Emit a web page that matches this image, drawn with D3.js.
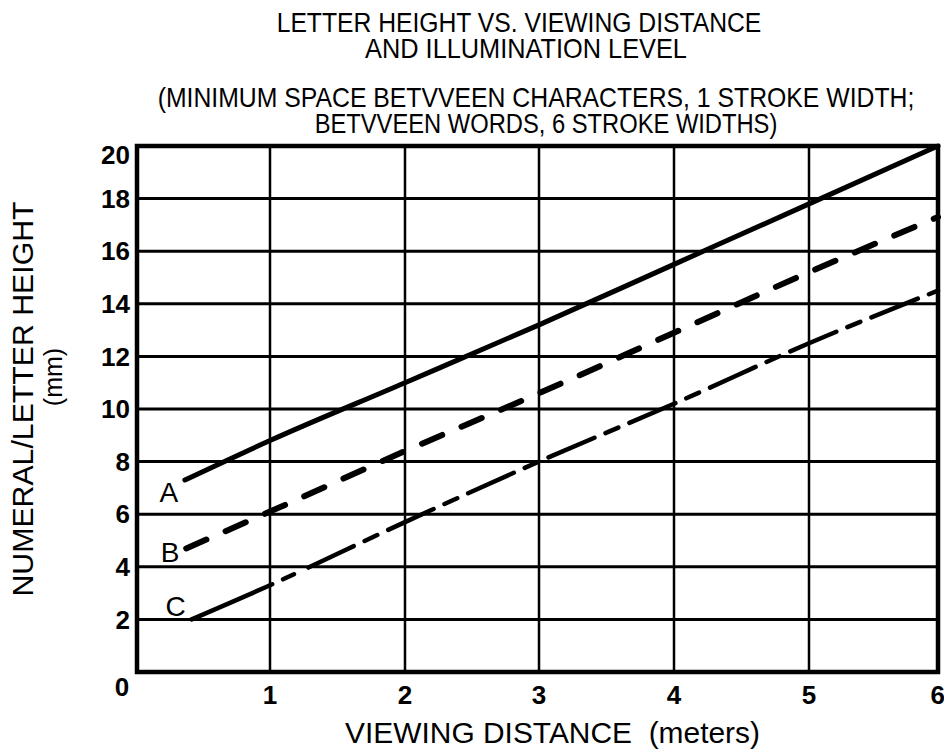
<!DOCTYPE html>
<html>
<head>
<meta charset="utf-8">
<script src="https://cdn.jsdelivr.net/npm/d3@7/dist/d3.min.js"></script>
<style>
  html, body { margin: 0; padding: 0; background: #fff; }
  svg { display: block; }
  text { font-family: "Liberation Sans", Arial, Helvetica, sans-serif; fill: #000; white-space: pre; }
</style>
</head>
<body>
<svg id="chart" width="944" height="749"></svg>
<script>
// Viewing distance grid (meters) and letter height grid (mm)
const xTicks = [1, 2, 3, 4, 5, 6];
const yTicks = [2, 4, 6, 8, 10, 12, 14, 16, 18, 20];

// Curves: letter height (mm) against viewing distance (m)
const curveA = [[0.36, 7.3], [1, 8.8], [2, 11.0], [3, 13.2], [4, 15.5], [5, 17.8], [6, 20.0]];
const curveB = [[0.37, 4.7], [1, 6.1], [2, 8.4], [3, 10.6], [4, 12.9], [5, 15.2], [6, 17.3]];
const curveC = [[0.41, 2.0], [1, 3.3], [2, 5.7], [3, 8.0], [4, 10.2], [5, 12.5], [6, 14.5]];
const curveLabels = ["A", "B", "C"];

const titleLines = [
  "LETTER HEIGHT VS. VIEWING DISTANCE",
  "AND ILLUMINATION LEVEL",
  "(MINIMUM SPACE BETVVEEN CHARACTERS, 1 STROKE WIDTH;",
  "BETVVEEN WORDS, 6 STROKE WIDTHS)"
];
const xTitle = "VIEWING DISTANCE  (meters)";
const yTitle = "NUMERAL/LETTER HEIGHT";
const yUnit = "(mm)";

const svg = d3.select("#chart");

// Hand-ruled grid: column spacing is slightly uneven
const x = d3.scaleLinear()
  .domain([0, 1, 2, 3, 4, 5, 6])
  .range([137, 270, 405, 539, 674, 809, 938]);
const y = d3.scaleLinear().domain([0, 20]).range([672, 146]);

// Title block in condensed lettering: each line is squeezed horizontally
// to its set width, keeping the full letter height
const titleLayout = [
  { cx: 519, y: 32, w: 485 },
  { cx: 526, y: 58, w: 322 },
  { cx: 536, y: 107, w: 757 },
  { cx: 546, y: 133, w: 463 }
];
svg.append("g").selectAll("text")
  .data(titleLines)
  .join("text")
  .attr("text-anchor", "middle")
  .style("font-size", "27px")
  .text(d => d)
  .each(function (d, i) {
    const L = titleLayout[i];
    const natural = this.getComputedTextLength();
    const sx = L.w / natural;
    d3.select(this).attr("transform", `translate(${L.cx},${L.y}) scale(${sx},1)`);
  });

// Grid lines
const grid = svg.append("g");
grid.selectAll("line.h")
  .data(yTicks.filter(v => v < 20))
  .join("line")
  .attr("class", "h")
  .attr("x1", x(0)).attr("x2", x(6))
  .attr("y1", d => y(d)).attr("y2", d => y(d))
  .attr("stroke", "#000").attr("stroke-width", 3);
grid.selectAll("line.v")
  .data(xTicks.filter(v => v < 6))
  .join("line")
  .attr("class", "v")
  .attr("x1", d => x(d)).attr("x2", d => x(d))
  .attr("y1", y(20)).attr("y2", y(0))
  .attr("stroke", "#000").attr("stroke-width", 2.5);

// Plot frame
svg.append("rect")
  .attr("x", x(0)).attr("y", y(20))
  .attr("width", x(6) - x(0)).attr("height", y(0) - y(20))
  .attr("fill", "none").attr("stroke", "#000").attr("stroke-width", 4.5);

// Curves
const line = d3.line()
  .x(d => x(d[0]))
  .y(d => y(d[1]))
  .curve(d3.curveMonotoneX);

// Dash pattern for C: short solid lead-in, then long/short dashes
const cDash = [88, 12, 12, 16];
for (let i = 0; i < 14; i++) cDash.push(50, 12, 14, 12);

const curves = [
  { data: curveA, width: 5, dash: null },
  { data: curveB, width: 6, dash: "22,21" },
  { data: curveC, width: 4.5, dash: cDash.join(",") }
];
svg.append("g").selectAll("path")
  .data(curves)
  .join("path")
  .attr("d", d => line(d.data))
  .attr("fill", "none")
  .attr("stroke", "#000")
  .attr("stroke-width", d => d.width)
  .attr("stroke-linecap", "round")
  .attr("stroke-linejoin", "round")
  .attr("stroke-dasharray", d => d.dash);

// Curve labels at the left end of each curve
svg.append("g").selectAll("text")
  .data(curves)
  .join("text")
  .attr("x", d => x(d.data[0][0]) - 16)
  .attr("y", (d, i) => y(d.data[0][1]) + [22, 14, -3][i])
  .attr("text-anchor", "middle")
  .style("font-size", "28px")
  .text((d, i) => curveLabels[i]);

// Y tick labels
svg.append("g").selectAll("text")
  .data(yTicks)
  .join("text")
  .attr("x", 130)
  .attr("y", d => Math.max(y(d), 155))
  .attr("dy", "0.35em")
  .attr("text-anchor", "end")
  .style("font-size", "26px")
  .style("font-weight", "bold")
  .text(d => d);

// X tick labels
svg.append("g").selectAll("text")
  .data(xTicks)
  .join("text")
  .attr("x", d => x(d))
  .attr("y", 704)
  .attr("text-anchor", d => d === 6 ? "end" : "middle")
  .attr("dx", d => d === 6 ? 7 : 0)
  .style("font-size", "26px")
  .style("font-weight", "bold")
  .text(d => d);

// Shared origin label
svg.append("text")
  .attr("x", 122).attr("y", 696)
  .attr("text-anchor", "middle")
  .style("font-size", "26px")
  .style("font-weight", "bold")
  .text(0);

// Axis titles
svg.append("text")
  .attr("x", 345).attr("y", 743)
  .attr("textLength", 415)
  .attr("lengthAdjust", "spacingAndGlyphs")
  .style("font-size", "29px")
  .text(xTitle);

svg.append("text")
  .attr("transform", "translate(33,399) rotate(-90)")
  .attr("text-anchor", "middle")
  .attr("textLength", 395)
  .attr("lengthAdjust", "spacingAndGlyphs")
  .style("font-size", "29px")
  .text(yTitle);

svg.append("text")
  .attr("transform", "translate(62,377) rotate(-90)")
  .attr("text-anchor", "middle")
  .style("font-size", "25px")
  .text(yUnit);
</script>
</body>
</html>
